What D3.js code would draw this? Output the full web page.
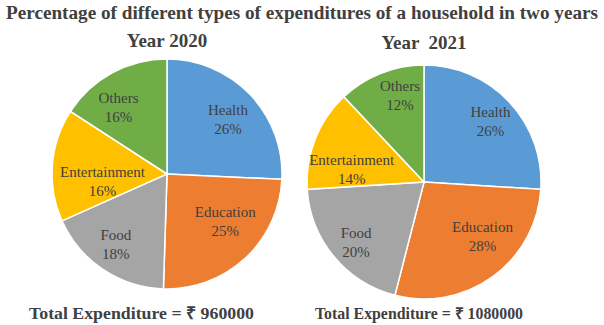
<!DOCTYPE html>
<html>
<head>
<meta charset="utf-8">
<script src="https://cdn.jsdelivr.net/npm/d3@7"></script>
<style>
  body { margin: 0; background: #fff; }
  text { font-family: "Liberation Serif", "Times New Roman", serif; white-space: pre; }
</style>
</head>
<body>
<main></main>
<script>
// expenditure shares per category, clockwise from 12 o'clock
const categories = ["Health", "Education", "Food", "Entertainment", "Others"];
const share2020 = [26, 25, 18, 16, 16];
const share2021 = [26, 28, 20, 14, 12];
const yearTitles = ["Year 2020", "Year  2021"];
const totals = ["Total Expenditure = \u20B9 960000", "Total Expenditure = \u20B9 1080000"];

const w = 604, h = 325;

const color = d3.scaleOrdinal()
	.domain(categories)
	.range(["#5b9bd5", "#ed7d31", "#a5a5a5", "#ffc000", "#70ad47"]);

let svg = d3.select("main")
	.append("svg")
	.attr("width", w)
	.attr("height", h);

svg.append("text")
	.attr("x", w / 2)
	.attr("y", 19)
	.attr("text-anchor", "middle")
	.attr("font-weight", "bold")
	.attr("font-size", 18.5)
	.attr("textLength", 592)
	.attr("lengthAdjust", "spacingAndGlyphs")
	.attr("fill", "#404040")
	.text("Percentage of different types of expenditures of a household in two years");

let drawPie = (values, opts) => {
	const pie = d3.pie().sort(null).value(d => d.value);
	const arc = d3.arc().innerRadius(0).outerRadius(opts.r);
	const labelArc = d3.arc().innerRadius(opts.r * 0.72).outerRadius(opts.r * 0.72);

	const data = pie(categories.map((c, i) => ({key: c, value: values[i]})));

	const g = svg.append("g")
		.attr("transform", `translate(${opts.cx},${opts.cy})`);

	g.selectAll("path")
		.data(data)
		.join("path")
		.attr("d", arc)
		.attr("fill", d => color(d.data.key))
		.attr("stroke", "#fff")
		.attr("stroke-width", 1.5);

	const labels = g.selectAll("text")
		.data(data)
		.join("text")
		.attr("transform", d => {
			let [x, y] = labelArc.centroid(d);
			let n = opts.nudge[d.data.key] || [0, 0];
			return `translate(${x + n[0]},${y + n[1]})`;
		})
		.attr("text-anchor", "middle")
		.attr("font-size", 15)
		.attr("fill", "#404040");

	labels.append("tspan")
		.attr("x", 0)
		.attr("y", -4)
		.text(d => d.data.key);
	labels.append("tspan")
		.attr("x", 0)
		.attr("y", 15)
		.text(d => d.data.value + "%");

	svg.append("text")
		.attr("x", opts.cx)
		.attr("y", opts.titleY)
		.attr("text-anchor", "middle")
		.attr("font-weight", "bold")
		.attr("font-size", 19)
		.attr("fill", "#404040")
		.text(opts.title);

	svg.append("text")
		.attr("x", opts.totalX)
		.attr("y", 319)
		.attr("font-weight", "bold")
		.attr("font-size", opts.totalSize)
		.attr("textLength", opts.totalLen)
		.attr("lengthAdjust", "spacingAndGlyphs")
		.attr("fill", "#404040")
		.text(opts.total);
};

drawPie(share2020, {
	cx: 167, cy: 174, r: 115, title: yearTitles[0], titleY: 47,
	total: totals[0], totalX: 29, totalSize: 17.5, totalLen: 225,
	nudge: {Entertainment: [18, 13], Others: [-9, 6], Education: [2, -14], Food: [-5, 1], Health: [1, 2]}
});

drawPie(share2021, {
	cx: 424, cy: 182, r: 117, title: yearTitles[1], titleY: 49,
	total: totals[1], totalX: 315, totalSize: 16, totalLen: 208,
	nudge: {Entertainment: [6, 18], Others: [7, -9], Education: [9, -14], Food: [-3, 6], Health: [5, -3]}
});
</script>
</body>
</html>
